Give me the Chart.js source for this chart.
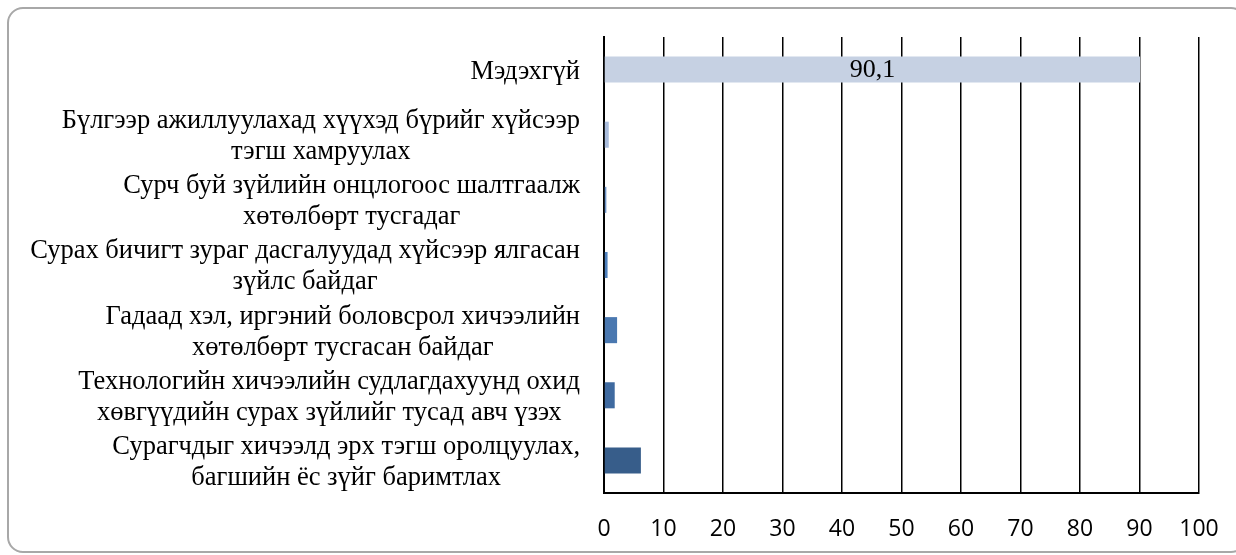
<!DOCTYPE html>
<html>
<head>
<meta charset="utf-8">
<script src="https://cdn.jsdelivr.net/npm/chart.js@4"></script>
<style>
  html, body { margin: 0; padding: 0; background: #fff; }
  #wrap { position: relative; width: 1236px; height: 555px; overflow: hidden; }
  #frame {
    position: absolute; left: 7px; top: 7px; width: 1240px; height: 546px;
    border: 2px solid #a8a8a8; border-radius: 16px; box-sizing: border-box;
  }
  canvas { position: absolute; left: 0; top: 0; }
</style>
</head>
<body>
<div id="wrap">
  <div id="frame"></div>
  <canvas id="chart" width="1236" height="555"></canvas>
</div>
<script>
// Categories (top to bottom), each one split in lines
const categories = [
  ["Мэдэхгүй"],
  ["Бүлгээр ажиллуулахад хүүхэд бүрийг хүйсээр", "тэгш хамруулах"],
  ["Сурч буй зүйлийн онцлогоос шалтгаалж", "хөтөлбөрт тусгадаг"],
  ["Сурах бичигт зураг дасгалуудад хүйсээр ялгасан", "зүйлс байдаг"],
  ["Гадаад хэл, иргэний боловсрол хичээлийн", "хөтөлбөрт тусгасан байдаг"],
  ["Технологийн хичээлийн судлагдахуунд охид", "хөвгүүдийн сурах зүйлийг тусад авч үзэх"],
  ["Сурагчдыг хичээлд эрх тэгш оролцуулах,", "багшийн ёс зүйг баримтлах"]
];
const values = [90.1, 0.8, 0.4, 0.6, 2.2, 1.8, 6.2];
const labelledValues = [90.1];
const xTicks = [0, 10, 20, 30, 40, 50, 60, 70, 80, 90, 100];

const barColors = ["#c6d1e3", "#a9bcdc", "#6f95c8", "#4e80bd", "#4a78b0", "#3f6aa0", "#375d8a"];

// category labels: block right aligned, lines centred inside the block
const catLabels = {
  id: "catLabels",
  afterDraw(chart) {
    const ctx = chart.ctx;
    const y = chart.scales.y;
    const right = 580;
    const lineH = 31;
    ctx.save();
    ctx.font = "26.5px 'Liberation Serif'";
    ctx.fillStyle = "#000";
    ctx.textAlign = "center";
    ctx.textBaseline = "middle";
    categories.forEach((lines, i) => {
      const cy = y.getPixelForValue(i) + 2;
      const w = Math.max(...lines.map(l => ctx.measureText(l).width));
      const cx = right - w / 2;
      const top = cy - (lines.length - 1) * lineH / 2;
      lines.forEach((l, k) => ctx.fillText(l, cx, top + k * lineH));
    });
    ctx.restore();
  }
};

// value label inside the bar
const valueLabels = {
  id: "valueLabels",
  afterDatasetsDraw(chart) {
    const ctx = chart.ctx;
    const meta = chart.getDatasetMeta(0);
    ctx.save();
    ctx.font = "26px 'Liberation Serif'";
    ctx.fillStyle = "#000";
    ctx.textAlign = "center";
    ctx.textBaseline = "middle";
    values.forEach((v, i) => {
      if (!labelledValues.includes(v)) return;
      const bar = meta.data[i];
      ctx.fillText(String(v).replace(".", ","), (bar.x + bar.base) / 2, bar.y + 1);
    });
    ctx.restore();
  }
};

new Chart(document.getElementById("chart"), {
  type: "bar",
  data: {
    labels: categories.map(c => c.join(" ")),
    datasets: [{
      data: values,
      backgroundColor: barColors,
      categoryPercentage: 1,
      barPercentage: 0.4
    }]
  },
  options: {
    indexAxis: "y",
    responsive: false,
    animation: false,
    layout: { padding: { left: 604, top: 37, right: 37, bottom: 0 } },
    plugins: { legend: { display: false }, tooltip: { enabled: false } },
    scales: {
      x: {
        min: 0,
        max: 100,
        afterBuildTicks: s => { s.ticks = xTicks.map(v => ({ value: v })); },
        afterFit: s => { s.height = 62; s.paddingLeft = 0; s.paddingRight = 0; },
        grid: { color: "#000", lineWidth: 1.5, drawTicks: false },
        border: { color: "#000", width: 2 },
        ticks: { color: "#000", font: { family: "'Open Sans'", size: 23 }, padding: 23 }
      },
      y: {
        afterFit: s => { s.width = 0; },
        grid: { display: false },
        border: { color: "#000", width: 2 },
        ticks: { display: false }
      }
    }
  },
  plugins: [catLabels, valueLabels]
});
</script>
</body>
</html>
